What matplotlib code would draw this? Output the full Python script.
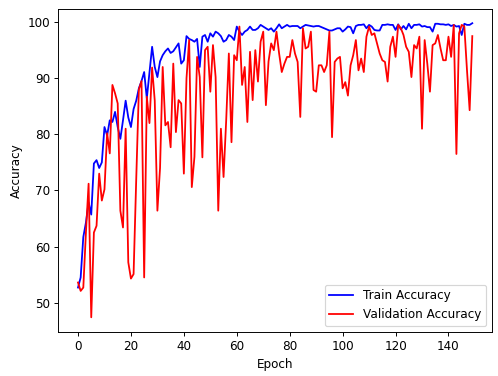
import matplotlib
matplotlib.use("Agg")
import matplotlib.pyplot as plt

train_acc = [
    52.7, 54.5, 61.7, 64.3, 67.9, 65.7, 74.8, 75.4, 74.0, 75.0,
    81.3, 79.8, 82.5, 82.2, 84.0, 81.3, 79.2, 82.5, 86.0, 83.0,
    81.3, 84.5, 86.0, 88.2, 89.5, 91.1, 86.4, 91.0, 95.6, 92.0,
    90.2, 93.0, 94.1, 94.8, 95.3, 94.5, 94.8, 95.5, 96.2, 92.6,
    93.2, 97.5, 97.0, 96.8, 96.5, 97.0, 92.0, 97.4, 97.7, 96.5,
    98.0, 97.4, 98.3, 98.0, 97.5, 96.5, 96.8, 97.7, 97.4, 96.8,
    99.2, 98.3, 97.7, 98.3, 98.6, 99.2, 98.6, 98.6, 98.9, 99.5,
    99.2, 98.9, 98.6, 98.9, 98.3, 98.9, 99.6, 98.9, 99.2, 99.5,
    99.2, 99.3, 99.3, 99.3, 98.9, 99.2, 99.5, 99.4, 99.3, 99.2,
    99.3, 99.3, 99.1, 98.9, 98.7, 98.5, 98.5, 98.7, 98.9, 98.9,
    98.3, 98.7, 99.2, 99.1, 98.0, 99.3, 99.5, 99.5, 99.6, 98.9,
    99.5, 99.2, 98.6, 98.5, 98.5, 99.5, 99.5, 99.6, 99.5, 99.5,
    98.6, 99.6, 98.7, 99.3, 98.7, 99.7, 98.9, 99.5, 99.5, 99.6,
    99.2, 99.3, 99.1, 99.1, 98.3, 99.7, 99.7, 99.6, 99.6, 99.5,
    99.6, 99.3, 99.5, 99.2, 99.3, 97.7, 99.7, 99.5, 99.5, 99.8,
]

val_acc = [
    53.6, 52.1, 52.7, 62.6, 71.2, 47.4, 62.5, 63.7, 73.0, 68.2,
    70.2, 80.2, 76.6, 88.8, 87.3, 85.5, 66.4, 63.4, 81.0, 57.2,
    54.3, 55.1, 72.0, 88.0, 89.5, 54.5, 86.7, 82.0, 91.9, 86.0,
    66.4, 74.0, 92.0, 81.6, 82.2, 77.7, 92.6, 80.4, 86.1, 85.5,
    73.0, 90.0, 96.8, 70.6, 76.0, 93.8, 90.2, 75.9, 95.0, 95.6,
    87.6, 95.9, 90.2, 66.4, 81.0, 72.4, 82.5, 94.4, 78.6, 94.1,
    93.2, 99.2, 88.8, 92.0, 82.2, 94.7, 86.1, 95.0, 89.4, 96.5,
    98.3, 85.2, 93.0, 96.2, 95.0, 98.3, 94.4, 91.1, 92.6, 93.8,
    93.8, 96.8, 94.4, 92.9, 83.1, 98.9, 95.3, 95.6, 98.3, 87.9,
    87.6, 92.3, 92.3, 91.1, 92.3, 98.3, 79.5, 92.9, 93.5, 93.8,
    88.2, 89.3, 86.9, 92.3, 94.1, 96.8, 91.4, 93.5, 91.1, 97.4,
    99.2, 97.7, 98.0, 96.2, 94.4, 93.2, 92.9, 89.4, 95.6, 97.4,
    93.8, 99.5, 98.9, 97.7, 95.6, 94.7, 90.2, 95.9, 95.3, 97.4,
    81.0, 96.8, 92.6, 87.6, 95.9, 96.2, 97.7, 95.3, 93.2, 93.2,
    97.4, 93.8, 99.5, 76.5, 98.0, 99.5, 99.2, 91.4, 84.3, 97.5,
]

epochs = list(range(len(train_acc)))

DPI = 86
fig = plt.figure(figsize=(499 / DPI, 376 / DPI), dpi=DPI)
ax = fig.add_axes([58.3 / 499, (376 - 332) / 376, (492 - 58.3) / 499, (332 - 8.5) / 376])
ax.plot(epochs, train_acc, color="blue", label="Train Accuracy")
ax.plot(epochs, val_acc, color="red", label="Validation Accuracy")
ax.set_xlabel("Epoch")
ax.set_ylabel("Accuracy")
ax.legend(loc="lower right")
fig.savefig("out.png", dpi=DPI)
